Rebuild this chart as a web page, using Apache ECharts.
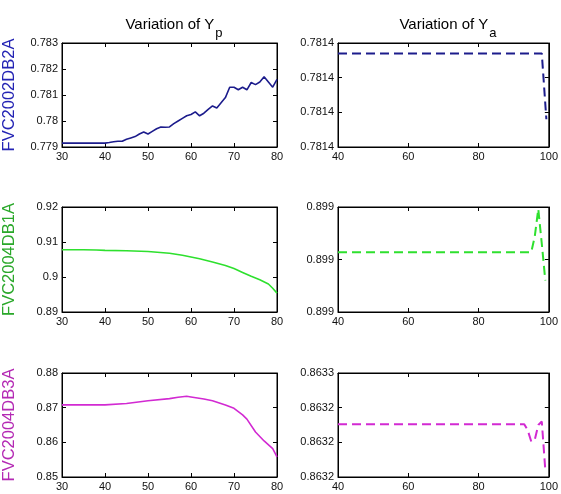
<!DOCTYPE html>
<html><head><meta charset="utf-8">
<script src="https://cdn.jsdelivr.net/npm/echarts@6/dist/echarts.min.js"></script>
<style>html,body{margin:0;padding:0;background:#fff}#c{width:561px;height:494px}</style>
</head><body><div id="c"></div>
<script>
// ---- data ----
const rowNames = ['FVC2002DB2A', 'FVC2004DB1A', 'FVC2004DB3A'];
const rowColors = ['#1c1c8c', '#2ee02e', '#d22ad2'];
const nameColors = ['#2424b4', '#2aa82a', '#b42ab4'];

const xYp1 = [30,31,32,33,34,35,36,37,38,39,40,41,42,43,44,45,46,47,48,49,50,51,52,53,54,55,56,57,58,59,60,61,62,63,64,65,66,67,68,69,70,71,72,73,74,75,76,77,78,79,80];
const yp1 = [0.77915,0.77915,0.77915,0.77915,0.77915,0.77915,0.77915,0.77915,0.77915,0.77915,0.77915,
  0.77917,0.7792,0.77922,0.77922,0.7793,0.77935,0.7794,0.7795,0.77958,0.7795,0.7796,0.7797,0.77977,0.77976,
  0.77977,0.7799,0.78,0.7801,0.7802,0.78025,0.78035,0.7802,0.7803,0.78045,0.78058,0.7805,0.7807,0.7809,0.7813,
  0.7813,0.7812,0.7813,0.7812,0.78148,0.7814,0.7815,0.7817,0.7815,0.7813,0.7816];

const xYp2 = [30,35,38,40,45,50,55,58,60,62,65,68,70,72,74,76,78,79,80];
const yp2 = [0.9078,0.9078,0.9077,0.9076,0.9075,0.9073,0.9068,0.9062,0.9057,0.9052,0.9043,0.9033,0.9024,0.9013,0.9002,0.8992,0.8980,0.8968,0.8954];

const xYp3 = [30,40,45,50,55,57,59,60,63,65,68,70,72,73,75,77,79,80];
const yp3 = [0.8708,0.8708,0.8712,0.8720,0.8726,0.8730,0.8733,0.8731,0.8725,0.8720,0.8708,0.8698,0.8679,0.8667,0.8630,0.8604,0.8582,0.8558];

const xYa1 = [40,50,60,70,80,90,95,98,99.3];
const ya1 = [0.781434,0.781434,0.781434,0.781434,0.781434,0.781434,0.781434,0.781434,0.781396];

const xYa2 = [40,50,60,70,80,90,95,96,97,98,99];
const ya2 = [0.899028,0.899028,0.899028,0.899028,0.899028,0.899028,0.899028,0.899088,0.899192,0.89906,0.89892];

const xYa3 = [40,50,60,70,80,90,93,94,95,96,97,98,99];
const ya3 = [0.863221,0.863221,0.863221,0.863221,0.863221,0.863221,0.863221,0.863214,0.863201,0.863203,0.86322,0.863224,0.863168];

// tick labels
const xTicksYp = ['30','40','50','60','70','80'];
const xTicksYa = ['40','60','80','100'];
const yTicksYp1 = ['0.779','0.78','0.781','0.782','0.783'];
const yTicksYp2 = ['0.89','0.9','0.91','0.92'];
const yTicksYp3 = ['0.85','0.86','0.87','0.88'];
const yTicksYa1 = ['0.7814','0.7814','0.7814','0.7814'];
const yTicksYa2 = ['0.899','0.899','0.899'];
const yTicksYa3 = ['0.8632','0.8632','0.8632','0.8633'];

// ---- layout ----
const gridTops = [43, 207, 373];
const gridHeights = [104, 105, 104];
const font = 'Liberation Sans, Arial, sans-serif';

const panels = [
  {row:0,col:0,x:xYp1,y:yp1,xr:[30,80,10],yr:[0.779,0.783,0.001],xl:xTicksYp,yl:yTicksYp1,dash:false},
  {row:0,col:1,x:xYa1,y:ya1,xr:[40,100,20],yr:[0.78138,0.78144,0.00002],xl:xTicksYa,yl:yTicksYa1,dash:true},
  {row:1,col:0,x:xYp2,y:yp2,xr:[30,80,10],yr:[0.89,0.92,0.01],xl:xTicksYp,yl:yTicksYp2,dash:false},
  {row:1,col:1,x:xYa2,y:ya2,xr:[40,100,20],yr:[0.8988,0.8992,0.0002],xl:xTicksYa,yl:yTicksYa2,dash:true},
  {row:2,col:0,x:xYp3,y:yp3,xr:[30,80,10],yr:[0.85,0.88,0.01],xl:xTicksYp,yl:yTicksYp3,dash:false},
  {row:2,col:1,x:xYa3,y:ya3,xr:[40,100,20],yr:[0.86316,0.86328,0.00004],xl:xTicksYa,yl:yTicksYa3,dash:true}
];

const grid = [], xAxis = [], yAxis = [], series = [];
const tick = {show:true, inside:true, length:4, lineStyle:{color:'#000', width:1}};
panels.forEach((p, i) => {
  grid.push({left: p.col === 0 ? 62 : 338, top: gridTops[p.row], width: 215, height: gridHeights[p.row],
    show:true, borderColor:'#000', borderWidth:1, backgroundColor:'#fff'});
  const xa = {type:'value', gridIndex:i, min:p.xr[0], max:p.xr[1], interval:p.xr[2],
    splitLine:{show:false}, axisLine:{show:true, lineStyle:{color:'#000'}}, axisTick:tick};
  xAxis.push(Object.assign({}, xa, {position:'bottom',
    axisLabel:{show:true, margin:4, color:'#111', fontSize:11, fontFamily:font,
      formatter:(v, idx) => p.xl[idx] !== undefined ? p.xl[idx] : ''}}));
  xAxis.push(Object.assign({}, xa, {position:'top', axisLabel:{show:false}}));
  const ya = {type:'value', gridIndex:i, min:p.yr[0], max:p.yr[1], interval:p.yr[2],
    splitLine:{show:false}, axisLine:{show:true, lineStyle:{color:'#000'}}, axisTick:tick};
  const left = Object.assign({}, ya, {position:'left',
    axisLabel:{show:true, margin:4, color:'#111', fontSize:11, fontFamily:font,
      formatter:(v, idx) => p.yl[idx] !== undefined ? p.yl[idx] : ''}});
  if (p.col === 0) {
    Object.assign(left, {name: rowNames[p.row], nameLocation:'middle', nameRotate:90, nameGap:44,
      nameTextStyle:{color: nameColors[p.row], fontSize:16.5, fontFamily:font}});
  }
  yAxis.push(left);
  yAxis.push(Object.assign({}, ya, {position:'right', axisLabel:{show:false}}));
  series.push({type:'line', xAxisIndex:2*i, yAxisIndex:2*i, showSymbol:false, symbol:'none',
    data: p.x.map((v, k) => [v, p.y[k]]),
    lineStyle:{color: rowColors[p.row], width: p.dash ? 2 : 1.6, type: p.dash ? [9,5] : 'solid'}});
});

const titleRich = {
  a:{fontSize:15, fontWeight:'normal', fontFamily:font, color:'#000', verticalAlign:'top'},
  s:{fontSize:13, fontWeight:'normal', fontFamily:font, color:'#000', verticalAlign:'top', padding:[10,0,0,1]}
};
const chart = echarts.init(document.getElementById('c'), null, {renderer:'canvas'});
chart.setOption({
  animation:false,
  backgroundColor:'#fff',
  title:[
    {text:'{a|Variation of Y}{s|p}', left:169, top:12, textAlign:'center', textStyle:{fontWeight:'normal', rich:titleRich}},
    {text:'{a|Variation of Y}{s|a}', left:443, top:12, textAlign:'center', textStyle:{fontWeight:'normal', rich:titleRich}}
  ],
  grid, xAxis, yAxis, series
});
</script></body></html>
